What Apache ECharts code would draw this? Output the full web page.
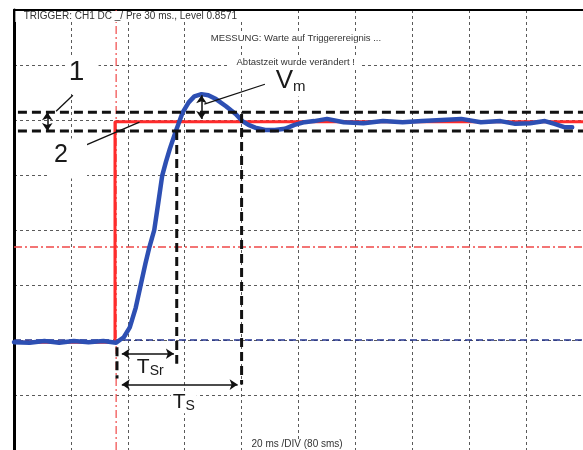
<!DOCTYPE html>
<html><head><meta charset="utf-8">
<script src="https://cdn.jsdelivr.net/npm/echarts/dist/echarts.min.js"></script>
<style>html,body{margin:0;padding:0;background:#fff}#c{width:583px;height:450px}</style>
</head><body><div id="c"></div>
<script>
// Horizontal axis: time in ms (20 ms / DIV). Vertical axis: divisions above the start level.
const signalTime  = [0, 5.5, 10.7, 15.9, 21.0, 26.2, 31.4, 35.9, 37.2, 38.6, 40.7, 42.8, 44.5, 46.2, 47.6, 49.3, 50.7, 52.1, 53.4, 54.8, 56.9, 59.3, 61.4, 63.4, 65.9, 68.3, 71.0, 74.5, 77.9, 80.3, 82.4, 84.8, 88.3, 91.7, 95.2, 98.6, 102.1, 105.5, 110.0, 115.9, 122.8, 129.7, 136.6, 143.4, 150.3, 157.2, 164.1, 171.0, 176.2, 181.4, 186.6, 190.0, 193.4, 196.2];
const signalLevel = [-0.04, -0.05, -0.02, -0.05, -0.02, -0.04, -0.02, -0.05, 0.00, 0.05, 0.23, 0.59, 0.99, 1.39, 1.69, 2.00, 2.49, 2.99, 3.24, 3.48, 3.80, 4.14, 4.32, 4.43, 4.47, 4.45, 4.38, 4.25, 4.11, 3.98, 3.91, 3.86, 3.82, 3.82, 3.84, 3.91, 3.96, 3.98, 4.02, 3.96, 3.94, 3.98, 3.96, 3.98, 4.00, 4.02, 3.96, 3.98, 3.93, 3.94, 3.98, 3.93, 3.87, 3.87];
const stepTime  = [0, 35.5, 35.5, 200];
const stepLevel = [-0.04, -0.04, 3.97, 3.97];
const triggerTime = 35.9;
const triggerLevel = 1.69;
const startLevel = 0;
const bandUpper = 4.14;
const bandLower = 3.80;
const riseEndTime = 57.2;
const settleTime = 80.0;
const arrowStart = 37.9;
const peakTime = 65.9;
const peakLevel = 4.45;
const texts = {
  trigger: 'TRIGGER: CH1 DC _/ Pre 30 ms., Level 0.8571',
  status: 'MESSUNG: Warte auf Triggerereignis ...',
  note: 'Abtastzeit wurde verändert !',
  scale: '20 ms /DIV (80 sms)'
};

const chart = echarts.init(document.getElementById('c'), null, {renderer: 'canvas'});
const F = 'Liberation Sans, Arial, sans-serif';
function seg(pts, style, z) {
  return {type: 'line', data: pts, symbol: 'none', silent: true, z: z, lineStyle: style, clip: false};
}
const dashBlack = {color: '#111', width: 3, type: [9, 5], cap: 'butt'};
const thin = {color: '#111', width: 1.3, type: 'solid'};
const ink = '#1a1a1a';

const labelItems = [
  {value: [40.9, 5.88], symbolSize: [230, 11], label: {formatter: texts.trigger, fontSize: 10, color: '#333'}},
  {value: [99.1, 5.48], symbolSize: [192, 11], label: {formatter: texts.status, fontSize: 9.5, color: '#333'}},
  {value: [99.0, 5.05], symbolSize: [132, 11], label: {formatter: texts.note, fontSize: 9.5, color: '#333'}},
  {value: [99.5, -1.90], symbolSize: [104, 11], label: {formatter: texts.scale, fontSize: 10, color: '#333'}},
  {value: [24.1, 4.83], symbolSize: [32, 37], label: {formatter: '1', fontSize: 28, color: ink, offset: [-6, -2]}},
  {value: [19.0, 3.30], symbolSize: [38, 40], label: {formatter: '2', fontSize: 25, color: ink, offset: [-7, -3]}},
  {value: [96.2, 4.71], symbolSize: [38, 31], label: {formatter: '{v|V}{m|m}', offset: [3, 0],
      rich: {v: {fontSize: 26, lineHeight: 26, color: ink, fontFamily: F, verticalAlign: 'bottom'},
             m: {fontSize: 15, lineHeight: 11, color: ink, fontFamily: F, verticalAlign: 'bottom'}}}},
  {value: [47.9, -0.50], symbolSize: [1, 1], itemStyle: {color: 'rgba(0,0,0,0)'}, label: {formatter: '{t|T}{s|Sr}',
      rich: {t: {fontSize: 21, lineHeight: 21, color: ink, fontFamily: F, verticalAlign: 'bottom'},
             s: {fontSize: 14, lineHeight: 10, color: ink, fontFamily: F, verticalAlign: 'bottom'}}}},
  {value: [59.7, -1.14], symbolSize: [26, 21], label: {formatter: '{t|T}{s|S}',
      rich: {t: {fontSize: 21, lineHeight: 21, color: ink, fontFamily: F, verticalAlign: 'bottom'},
             s: {fontSize: 14, lineHeight: 14, color: ink, fontFamily: F, verticalAlign: 'bottom'}}}}
];
labelItems.forEach(d => { d.label.show = true; d.label.position = 'inside'; d.label.fontFamily = F; });

const option = {
  animation: false,
  backgroundColor: '#fff',
  grid: {left: 14, top: 10, width: 580, height: 444, containLabel: false},
  xAxis: {type: 'value', min: 0, max: 200, interval: 20, position: 'top',
    axisLine: {show: true, onZero: false, lineStyle: {color: '#000', width: 2}},
    axisTick: {show: false}, axisLabel: {show: false},
    splitLine: {show: true, lineStyle: {color: '#5a5a5a', width: 1, type: [3, 3]}}},
  yAxis: {type: 'value', min: -2, max: 6, interval: 1,
    axisLine: {show: true, onZero: false, lineStyle: {color: '#000', width: 3}},
    axisTick: {show: false}, axisLabel: {show: false},
    splitLine: {show: true, lineStyle: {color: '#5a5a5a', width: 1, type: [3, 3]}}},
  series: [
    seg([[0, triggerLevel], [200, triggerLevel]], {color: '#f04848', width: 1.5, type: [8, 3, 2, 3]}, 2),
    seg([[triggerTime, -2], [triggerTime, 6]], {color: '#f04848', width: 1.2, type: [8, 3, 2, 3]}, 2),
    seg([[0, startLevel], [200, startLevel]], {color: '#24348f', width: 1.6, type: [7, 4]}, 2),
    seg(stepTime.map((t, i) => [t, stepLevel[i]]), {color: '#ff2b2b', width: 3, type: 'solid'}, 3),
    seg(signalTime.map((t, i) => [t, signalLevel[i]]), {color: '#2d4fb3', width: 4.5, type: 'solid', join: 'round', cap: 'round'}, 4),
    seg([[1.38, bandUpper], [200, bandUpper]], dashBlack, 5),
    seg([[1.38, bandLower], [200, bandLower]], dashBlack, 5),
    seg([[riseEndTime, bandLower], [riseEndTime, -0.43]], dashBlack, 5),
    seg([[settleTime, 4.11], [settleTime, -0.81]], dashBlack, 5),
    seg([[36.2, -0.13], [36.2, -0.70]], dashBlack, 5),
    seg([[14.8, 4.16], [20.7, 4.45]], thin, 6),
    seg([[23.8, 3.51], [44.1, 3.96]], thin, 6),
    seg([[66.9, 4.29], [88.2, 4.65]], thin, 6),
    {type: 'line', data: [], z: 6, silent: true,
      markLine: {silent: true, symbol: ['arrow', 'arrow'], symbolSize: 8, label: {show: false},
        lineStyle: {color: '#111', width: 1.5, type: 'solid'},
        data: [
          [{coord: [arrowStart, -0.25]}, {coord: [riseEndTime - 1.0, -0.25]}],
          [{coord: [arrowStart, -0.81]}, {coord: [settleTime - 1.4, -0.81]}],
          [{coord: [11.7, bandUpper]}, {coord: [11.7, bandLower]}],
          [{coord: [peakTime, peakLevel]}, {coord: [peakTime, 4.02]}]
        ]}},
    {type: 'scatter', data: labelItems, symbol: 'rect', itemStyle: {color: '#fff', opacity: 1}, z: 10, silent: true, clip: false}
  ]
};
chart.setOption(option);
</script></body></html>
